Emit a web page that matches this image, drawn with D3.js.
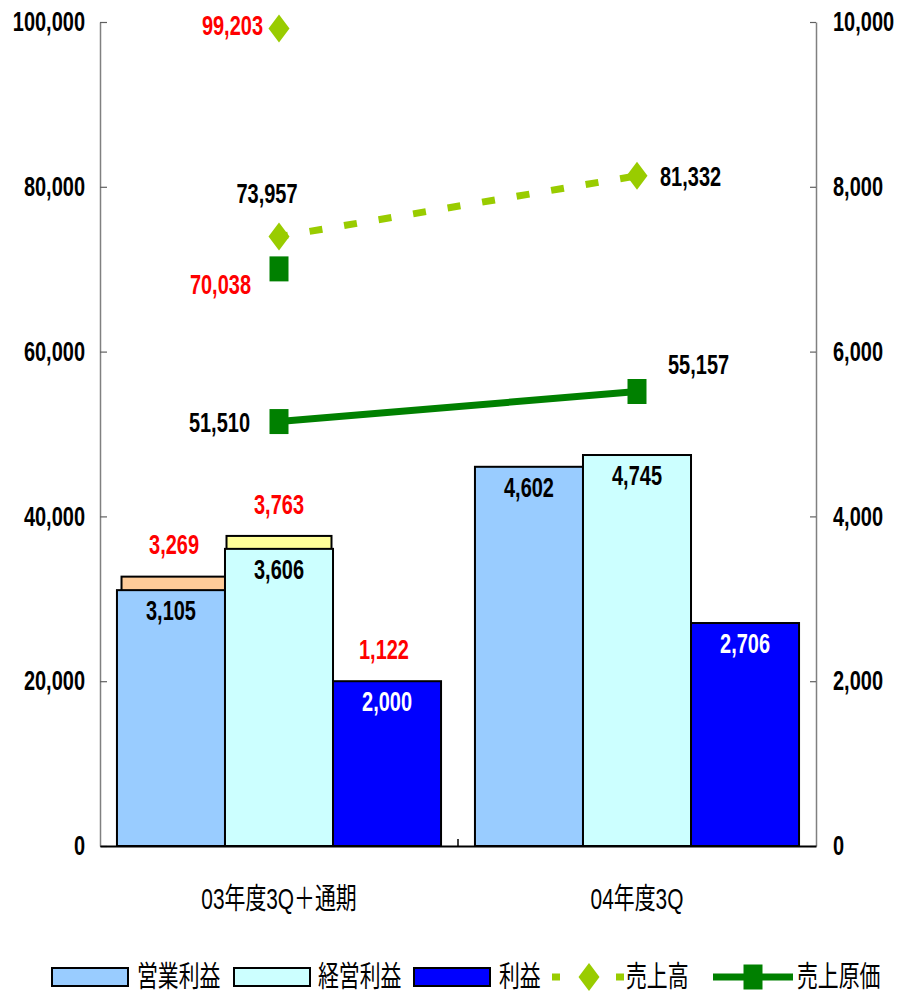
<!DOCTYPE html>
<html>
<head>
<meta charset="utf-8">
<script src="https://cdn.jsdelivr.net/npm/d3@7"></script>
<style>
  html, body { margin: 0; padding: 0; background: #ffffff; }
  svg { display: block; }
</style>
</head>
<body>
<svg id="chart" width="897" height="992"></svg>
<script>
// ---- data ----
const categories = ["03年度3Q＋通期", "04年度3Q"];
const barSeries = ["営業利益", "経営利益", "利益"];

// third-quarter results (right axis)
const operatingProfit = [3105, 4602];
const ordinaryProfit = [3606, 4745];
const netProfit = [2000, 2706];

// full-year results for FY03 (right axis)
const fullYearProfits = [3269, 3763, 1122];

// sales and cost of sales (left axis)
const sales = [73957, 81332];
const costOfSales = [51510, 55157];
const fullYearSales = 99203;
const fullYearCost = 70038;

const leftTicks = [0, 20000, 40000, 60000, 80000, 100000];
const rightTicks = [0, 2000, 4000, 6000, 8000, 10000];

// ---- styles ----
const barColors = ["#99CCFF", "#CCFFFF", "#0000FF"];
const fullYearColors = ["#FFCC99", "#FFFF99", "#9999FF"];
const salesColor = "#99CC00";
const costColor = "#008000";
const red = "#FF0000";
const NUM_SX = 0.74;   // condensing of numeric text
const CJK_SX = 0.72;   // condensing of Japanese text
const latin = "'Liberation Sans', Arial, 'Noto Sans CJK JP', sans-serif";
const cjk = "'Liberation Sans', Arial, 'Noto Sans CJK JP', sans-serif";

const svg = d3.select("#chart");
const fmt = d3.format(",");

const plot = { left: 100, right: 816, top: 22, bottom: 846 };

const x = d3.scaleBand().domain(categories).range([plot.left, plot.right]).paddingInner(0).paddingOuter(0);
const xBar = d3.scaleBand().domain(barSeries).range([0, x.bandwidth()]).paddingInner(0).paddingOuter(0.157);
const xFull = d3.scaleBand().domain(barSeries).range([0, x.bandwidth()]).paddingInner(0).paddingOuter(0.205);
const yL = d3.scaleLinear().domain([0, 100000]).range([plot.bottom, plot.top]);
const yR = d3.scaleLinear().domain([0, 10000]).range([plot.bottom, plot.top]);

// condensed text helper
function label(g, txt, px, py, opts) {
  const o = Object.assign({ size: 27, weight: "bold", anchor: "middle", fill: "#000", family: latin, sx: NUM_SX }, opts || {});
  return g.append("text")
    .attr("transform", `translate(${px},${py}) scale(${o.sx},1)`)
    .attr("text-anchor", o.anchor)
    .attr("dy", "0.36em")
    .attr("font-family", o.family)
    .attr("font-size", o.size)
    .attr("font-weight", o.weight)
    .attr("fill", o.fill)
    .text(txt);
}

// ---- axes ----
const axisL = d3.axisLeft(yL).tickValues(leftTicks).tickFormat(fmt)
  .tickSizeInner(-7).tickSizeOuter(0).tickPadding(15 / NUM_SX);
const axisR = d3.axisRight(yR).tickValues(rightTicks).tickFormat(fmt)
  .tickSizeInner(-6).tickSizeOuter(0).tickPadding(17 / NUM_SX);

function styleAxis(g) {
  g.select(".domain").attr("stroke", "#808080").attr("stroke-width", 1.5);
  g.selectAll(".tick line").attr("stroke", "#606060").attr("stroke-width", 1.2);
  g.selectAll(".tick text")
    .attr("font-family", latin).attr("font-size", 27).attr("font-weight", "bold")
    .attr("fill", "#000").attr("transform", `scale(${NUM_SX},1)`);
}

svg.append("g").attr("transform", `translate(${plot.left},0)`).call(axisL).call(styleAxis);
svg.append("g").attr("transform", `translate(${plot.right},0)`).call(axisR).call(styleAxis);

// ---- bars ----
const barsG = svg.append("g");

// full-year bars sit behind the quarter bars, only their tops show
const fy = barSeries.map((s, i) => ({ s, i, v: fullYearProfits[i] }));
barsG.selectAll("rect.fy").data(fy).join("rect")
  .attr("class", "fy")
  .attr("x", d => x(categories[0]) + xFull(d.s))
  .attr("width", xFull.bandwidth())
  .attr("y", d => yR(d.v))
  .attr("height", d => yR(0) - yR(d.v))
  .attr("fill", d => fullYearColors[d.i])
  .attr("stroke", "#000").attr("stroke-width", 2);

const seriesValues = [operatingProfit, ordinaryProfit, netProfit];
const bars = [];
categories.forEach((c, ci) => barSeries.forEach((s, si) => bars.push({ c, ci, s, si, v: seriesValues[si][ci] })));

barsG.selectAll("rect.q3").data(bars).join("rect")
  .attr("class", "q3")
  .attr("x", d => x(d.c) + xBar(d.s))
  .attr("width", xBar.bandwidth())
  .attr("y", d => yR(d.v))
  .attr("height", d => yR(0) - yR(d.v))
  .attr("fill", d => barColors[d.si])
  .attr("stroke", "#000").attr("stroke-width", 2);

// bottom axis line, category labels and divider
const axisB = d3.axisBottom(x).tickSize(0).tickPadding(42);
const gB = svg.append("g").attr("transform", `translate(0,${plot.bottom})`).call(axisB);
gB.select(".domain").attr("stroke", "#000").attr("stroke-width", 2);
gB.selectAll(".tick text")
  .attr("font-family", cjk).attr("font-size", 29).attr("font-weight", "normal")
  .attr("fill", "#000").attr("transform", `scale(${CJK_SX},1)`);
gB.append("line")
  .attr("x1", x(categories[1])).attr("x2", x(categories[1]))
  .attr("y1", 0).attr("y2", -7)
  .attr("stroke", "#000").attr("stroke-width", 1.5);

// ---- bar labels ----
const lblG = svg.append("g");
bars.forEach(d => {
  label(lblG, fmt(d.v), x(d.c) + xBar(d.s) + xBar.bandwidth() / 2, yR(d.v) + 20,
    { fill: d.si === 2 ? "#fff" : "#000" });
});
fy.forEach(d => {
  const top = Math.min(yR(d.v), yR(seriesValues[d.i][0]));
  label(lblG, fmt(d.v), x(categories[0]) + xFull(d.s) + xFull.bandwidth() / 2, top - 32, { fill: red });
});

// ---- lines ----
const cx = c => x(c) + x.bandwidth() / 2;
const lineL = d3.line().x(d => cx(d.c)).y(d => yL(d.v));
const salesPts = categories.map((c, i) => ({ c, v: sales[i] }));
const costPts = categories.map((c, i) => ({ c, v: costOfSales[i] }));

const linesG = svg.append("g");
linesG.append("path").datum(costPts).attr("d", lineL)
  .attr("fill", "none").attr("stroke", costColor).attr("stroke-width", 7);
linesG.append("path").datum(salesPts).attr("d", lineL)
  .attr("fill", "none").attr("stroke", salesColor).attr("stroke-width", 7)
  .attr("stroke-dasharray", "13,22").attr("stroke-dashoffset", 4);

const diamond = (hx, hy) => `M0,${-hy}L${hx},0L0,${hy}L${-hx},0Z`;
const square = (hx, hy) => `M${-hx},${-hy}H${hx}V${hy}H${-hx}Z`;

const costMarks = costPts.concat([{ c: categories[0], v: fullYearCost }]);
linesG.selectAll("path.sq").data(costMarks).join("path").attr("class", "sq")
  .attr("transform", d => `translate(${cx(d.c)},${yL(d.v)})`)
  .attr("d", square(9.5, 12.5)).attr("fill", costColor);
const salesMarks = salesPts.concat([{ c: categories[0], v: fullYearSales }]);
linesG.selectAll("path.dm").data(salesMarks).join("path").attr("class", "dm")
  .attr("transform", d => `translate(${cx(d.c)},${yL(d.v)})`)
  .attr("d", diamond(10.5, 14)).attr("fill", salesColor);

// line value labels
const c0 = cx(categories[0]), c1 = cx(categories[1]);
label(lblG, fmt(fullYearSales), c0 - 16, yL(fullYearSales) - 3, { anchor: "end", fill: red });
label(lblG, fmt(sales[0]), c0 - 12, yL(sales[0]) - 43);
label(lblG, fmt(fullYearCost), c0 - 28, yL(fullYearCost) + 15, { anchor: "end", fill: red });
label(lblG, fmt(costOfSales[0]), c0 - 29, yL(costOfSales[0]) + 1, { anchor: "end" });
label(lblG, fmt(sales[1]), c1 + 23, yL(sales[1]), { anchor: "start" });
label(lblG, fmt(costOfSales[1]), c1 + 31, yL(costOfSales[1]) - 27, { anchor: "start" });

// ---- legend ----
const leg = svg.append("g").attr("transform", "translate(0,977)");
const rectItems = [
  { name: barSeries[0], color: barColors[0], x0: 52, tx: 137 },
  { name: barSeries[1], color: barColors[1], x0: 234, tx: 318 },
  { name: barSeries[2], color: barColors[2], x0: 414, tx: 499 }
];
const legText = (t, tx) => label(leg, t, tx, 0, { anchor: "start", weight: "normal", size: 29, family: cjk, sx: CJK_SX });
rectItems.forEach(it => {
  leg.append("rect").attr("x", it.x0).attr("y", -9).attr("width", 76).attr("height", 18)
    .attr("fill", it.color).attr("stroke", "#000").attr("stroke-width", 2);
  legText(it.name, it.tx);
});
leg.append("line").attr("x1", 552).attr("x2", 624).attr("y1", 0).attr("y2", 0)
  .attr("stroke", salesColor).attr("stroke-width", 7).attr("stroke-dasharray", "8,56,8");
leg.append("path").attr("transform", "translate(589,0)").attr("d", diamond(10.5, 14)).attr("fill", salesColor);
legText("売上高", 626);
leg.append("line").attr("x1", 713).attr("x2", 793).attr("y1", 0).attr("y2", 0)
  .attr("stroke", costColor).attr("stroke-width", 7);
leg.append("path").attr("transform", "translate(753,0)").attr("d", square(9.5, 12.5)).attr("fill", costColor);
legText("売上原価", 797);
</script>
</body>
</html>
